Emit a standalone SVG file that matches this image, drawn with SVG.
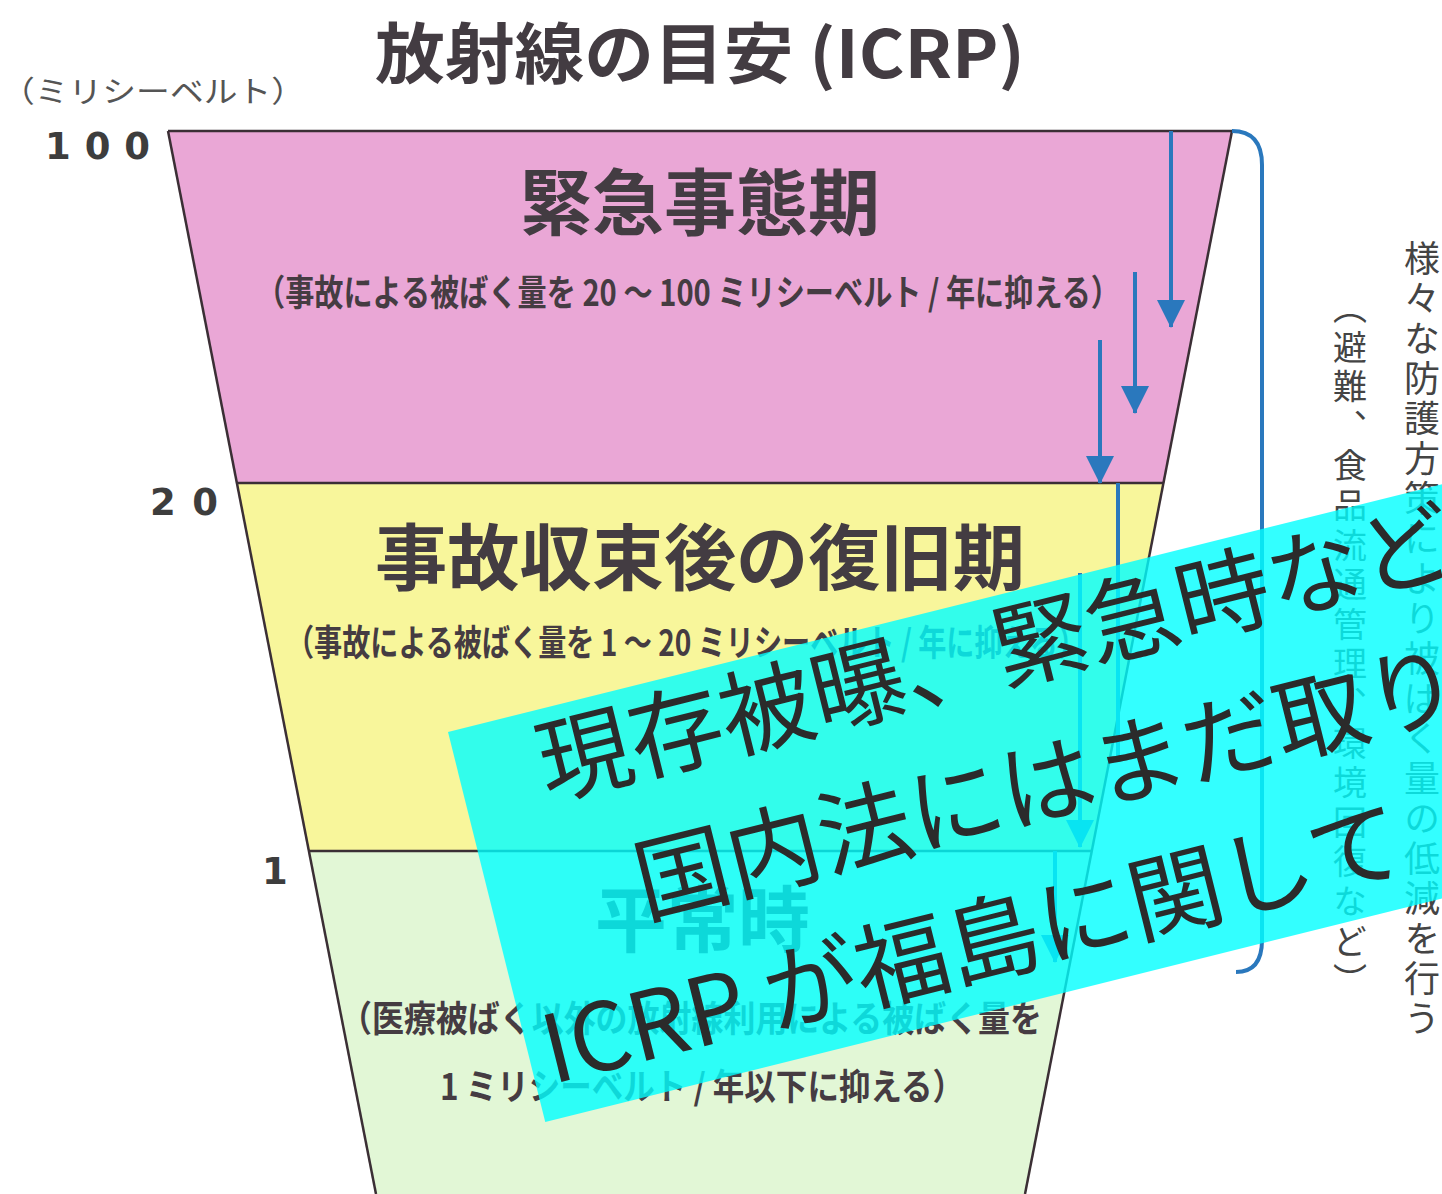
<svg xmlns="http://www.w3.org/2000/svg" width="1442" height="1194" viewBox="0 0 1442 1194">
  <style>
    .jp { font-family: "Noto Sans CJK JP", "Noto Sans", sans-serif; }
    .head { font-weight: 700; fill: #433c42; }
    .sub { font-weight: 700; fill: #453c42; }
    .axis { font-family: "DejaVu Sans", "Liberation Sans", sans-serif; font-weight: 700; fill: #3d3d3d; }
    .vert { font-family: "Noto Sans CJK JP", sans-serif; writing-mode: vertical-rl; fill: #444; }
    .band-edge { stroke: #3b2f35; stroke-width: 2.5; fill: none; }
    .blue { stroke: #2a78bd; stroke-width: 4; fill: none; }
    .banner-text { font-family: "Noto Sans CJK JP", sans-serif; font-size: 94px; fill: #2b2b2b; }
  </style>
  <defs>
    <marker id="ah" markerUnits="userSpaceOnUse" viewBox="0 0 28 28" markerWidth="28" markerHeight="28" refX="27" refY="14" orient="auto">
      <path d="M0,0 L28,14 L0,28 z" fill="#2a78bd"/>
    </marker>
  </defs>
  <rect width="1442" height="1194" fill="#ffffff"/>

  <g id="title">
    <text class="jp head" x="375" y="78" font-size="66" textLength="650" lengthAdjust="spacingAndGlyphs" fill="#3d3d3d">放射線の目安 (ICRP)</text>
  </g>

  <g id="axis-labels">
    <text class="jp" x="1" y="102" font-size="30" textLength="304" lengthAdjust="spacingAndGlyphs" fill="#555">（ミリシーベルト）</text>
    <text class="axis" x="45" y="159" font-size="37" textLength="105" lengthAdjust="spacing">100</text>
    <text class="axis" x="150" y="515" font-size="37" textLength="68" lengthAdjust="spacing">20</text>
    <text class="axis" x="262" y="884" font-size="37">1</text>
  </g>

  <g id="band-emergency">
    <polygon points="168,131 1232,131 1164,483 237,483" fill="#eaa7d6"/>
    <text class="jp head" x="520" y="229" font-size="72" textLength="360" lengthAdjust="spacingAndGlyphs">緊急事態期</text>
    <text class="jp sub" x="256" y="306" font-size="36" textLength="864" lengthAdjust="spacingAndGlyphs">（事故による被ばく量を 20 ～ 100 ミリシーベルト / 年に抑える）</text>
  </g>

  <g id="band-recovery">
    <polygon points="237,483 1164,483 1092,851 308,851" fill="#f8f69b"/>
    <text class="jp head" x="375" y="584" font-size="72" textLength="650" lengthAdjust="spacingAndGlyphs">事故収束後の復旧期</text>
    <text class="jp sub" x="286" y="656" font-size="36" textLength="800" lengthAdjust="spacingAndGlyphs">（事故による被ばく量を 1 ～ 20 ミリシーベルト / 年に抑える）</text>
  </g>

  <g id="band-normal">
    <polygon points="308,851 1092,851 1026,1194 375,1194" fill="#e2f7d6"/>
    <text class="jp head" x="595" y="946" font-size="72" textLength="215" lengthAdjust="spacingAndGlyphs">平常時</text>
    <text class="jp sub" x="340" y="1032" font-size="36" textLength="702" lengthAdjust="spacingAndGlyphs">（医療被ばく以外の放射線利用による被ばく量を</text>
    <text class="jp sub" x="440" y="1100" font-size="36" textLength="524" lengthAdjust="spacingAndGlyphs">1 ミリシーベルト / 年以下に抑える）</text>
  </g>

  <g id="funnel-outline">
    <line class="band-edge" x1="168" y1="131" x2="1232" y2="131" stroke="#54384a" stroke-width="3"/>
    <line class="band-edge" x1="237" y1="483" x2="1164" y2="483" stroke-width="3"/>
    <line class="band-edge" x1="308" y1="851" x2="1092" y2="851" stroke-width="3"/>
    <line class="band-edge" x1="168" y1="131" x2="376" y2="1194"/>
    <line class="band-edge" x1="1232" y1="131" x2="1025" y2="1194"/>
  </g>

  <g id="connectors">
    <line class="blue" x1="1171" y1="131" x2="1171" y2="327" marker-end="url(#ah)"/>
    <line class="blue" x1="1135" y1="272" x2="1135" y2="413" marker-end="url(#ah)"/>
    <line class="blue" x1="1100" y1="340" x2="1100" y2="483" marker-end="url(#ah)"/>
    <line class="blue" x1="1118" y1="483" x2="1118" y2="760"/>
    <line class="blue" x1="1080" y1="573" x2="1080" y2="847" marker-end="url(#ah)"/>
    <line class="blue" x1="1055" y1="851" x2="1055" y2="962" marker-end="url(#ah)"/>
    <path class="blue" d="M1232,131 Q1262,131 1262,165 L1262,940 Q1262,972 1236,972"/>
  </g>

  <g id="side-notes">
    <text class="vert" x="1422" y="240" font-size="36" letter-spacing="4">様々な防護方策により被ばく量の低減を行う</text>
    <text class="vert" x="1350" y="290" font-size="34" letter-spacing="5.6">（避難、食品流通管理、環境回復など）</text>
  </g>

  <g id="banner" transform="translate(448,732) rotate(-14)">
    <rect x="0" y="0" width="1300" height="402" fill="#00ffff" fill-opacity="0.8"/>
    <text class="banner-text" x="80" y="89">現存被曝、緊急時など</text>
    <text class="banner-text" x="146" y="228">国内法にはまだ取り</text>
    <text class="banner-text" x="16" y="367">ICRP が福島に関して</text>
  </g>
</svg>
